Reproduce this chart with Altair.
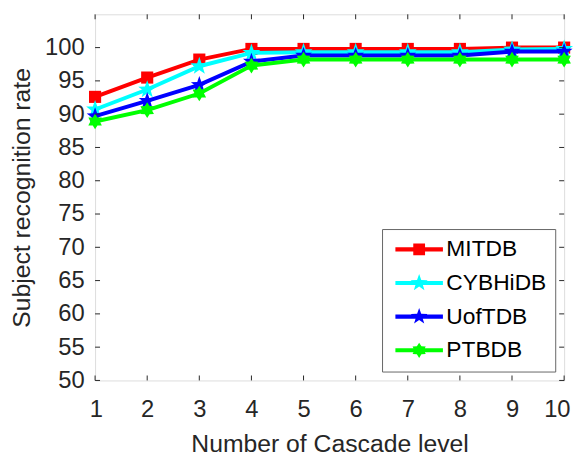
import math
import altair as alt
import pandas as pd

levels = [1, 2, 3, 4, 5, 6, 7, 8, 9, 10]
series_names = ["MITDB", "CYBHiDB", "UofTDB", "PTBDB"]
mitdb = [92.6, 95.5, 98.2, 99.8, 99.8, 99.8, 99.8, 99.8, 100.0, 100.0]
cybhidb = [90.7, 93.7, 97.2, 99.2, 99.3, 99.3, 99.3, 99.3, 99.7, 99.8]
uoftdb = [89.7, 92.0, 94.4, 97.9, 98.8, 98.8, 98.8, 98.8, 99.4, 99.4]
ptbdb = [88.9, 90.6, 93.1, 97.3, 98.2, 98.2, 98.2, 98.2, 98.2, 98.2]
y_ticks = [50, 55, 60, 65, 70, 75, 80, 85, 90, 95, 100]
x_ticks = levels

colors = ["#FF0000", "#00FFFF", "#0000FF", "#00FF00"]
FONT = "Liberation Sans"
INK = "#262626"
W, H = 474, 370


def star_path(n, outer, inner):
    pts = []
    for i in range(2 * n):
        r = outer if i % 2 == 0 else inner
        a = -math.pi / 2 + i * math.pi / n
        pts.append((r * math.cos(a), r * math.sin(a)))
    return "M" + " L".join(f"{x:.3f},{y:.3f}" for x, y in pts) + " Z"


def square_path(s):
    return f"M{-s},{-s} L{s},{-s} L{s},{s} L{-s},{s} Z"


marker_paths = [square_path(1), star_path(5, 1, 0.40), star_path(5, 1, 0.40), star_path(6, 1, 0.6)]
marker_sizes = [150, 360, 320, 250]


def line_rect(half_len, half_w):
    return f"M{-half_len},{-half_w} L{half_len},{-half_w} L{half_len},{half_w} L{-half_len},{half_w} Z"

lr = line_rect(3.43, 0.3)
legend_paths = [
    lr + " " + square_path(0.85),
    lr + " " + star_path(5, 1.3, 0.52),
    lr + " " + star_path(5, 1.25, 0.5),
    lr + " " + star_path(6, 1.1, 0.66),
]

values = [mitdb, cybhidb, uoftdb, ptbdb]
rows = []
for name, vals in zip(series_names, values):
    for lv, v in zip(levels, vals):
        rows.append({"level": lv, "rate": v, "series": name, "name": name})
df = pd.DataFrame(rows)

xscale = alt.Scale(domain=[1, 10], nice=False, zero=False)
yscale = alt.Scale(domain=[50, 105], nice=False, zero=False)

xaxis = alt.Axis(
    values=x_ticks, title="Number of Cascade level", grid=False, domain=False, ticks=False,
    labelFont=FONT, labelFontSize=24, labelColor=INK, labelPadding=17,
    titleFont=FONT, titleFontSize=25, titleColor=INK, titleFontWeight="normal", titlePadding=11,
    labelFlush=True, labelFlushOffset=6, labelOverlap=False,
)
yaxis = alt.Axis(
    values=y_ticks, title="Subject recognition rate", grid=False, domain=False, ticks=False,
    labelFont=FONT, labelFontSize=24, labelColor=INK, labelPadding=11,
    titleFont=FONT, titleFontSize=25, titleColor=INK, titleFontWeight="normal", titlePadding=10,
    labelOverlap=False, labelFlush=False,
)

legend_def = alt.Legend(
    title=None, orient="none", legendX=290, legendY=217,
    labelFont=FONT, labelFontSize=23, labelColor="#000000",
    symbolSize=196, symbolOffset=17, labelOffset=16,
    padding=9, rowPadding=10, strokeColor="#666666", fillColor="#FFFFFF",
    symbolStrokeWidth=0, cornerRadius=0,
)


def X(field):
    return alt.X(field, scale=xscale, axis=xaxis, title="Number of Cascade level")


def Y(field):
    return alt.Y(field, scale=yscale, axis=yaxis, title="Subject recognition rate")


base = alt.Chart(df)
layers = []
for name, col, mp, ms in zip(series_names, colors, marker_paths, marker_sizes):
    sub = base.transform_filter(alt.datum.series == name)
    layers.append(sub.mark_line(color=col, strokeWidth=4).encode(x=X("level:Q"), y=Y("rate:Q")))
    layers.append(
        sub.mark_point(shape=mp, size=ms, filled=True, color=col, opacity=1, strokeWidth=0).encode(
            x=X("level:Q"), y=Y("rate:Q")
        )
    )

legend_layer = base.transform_filter("false").mark_point(filled=True, opacity=1, strokeWidth=0).encode(
    x=X("level:Q"),
    y=Y("rate:Q"),
    color=alt.Color("name:N", scale=alt.Scale(domain=series_names, range=colors), legend=legend_def),
    shape=alt.Shape("name:N", scale=alt.Scale(domain=series_names, range=legend_paths), legend=legend_def),
)
layers.append(legend_layer)

ydf = pd.DataFrame({"v": y_ticks})
xdf = pd.DataFrame({"v": x_ticks})
tick_style = dict(color=INK, strokeWidth=1)
layers.append(alt.Chart(ydf).mark_rule(**tick_style).encode(
    y=Y("v:Q"), x=alt.value(0), x2=alt.value(5)))
layers.append(alt.Chart(ydf).mark_rule(**tick_style).encode(
    y=Y("v:Q"), x=alt.value(W - 5), x2=alt.value(W)))
layers.append(alt.Chart(xdf).mark_rule(**tick_style).encode(
    x=X("v:Q"), y=alt.value(H - 5), y2=alt.value(H)))
layers.append(alt.Chart(xdf).mark_rule(**tick_style).encode(
    x=X("v:Q"), y=alt.value(0), y2=alt.value(5)))

chart = alt.layer(*layers).properties(
    width=W, height=H,
    autosize=alt.AutoSizeParams(type="none"),
    padding={"left": 88, "top": 4, "right": 12, "bottom": 77},
).configure_view(
    stroke=INK, strokeWidth=1.3
).configure(background="#FFFFFF")

chart.save("out.html", embed_options={"renderer": "svg", "actions": False})
